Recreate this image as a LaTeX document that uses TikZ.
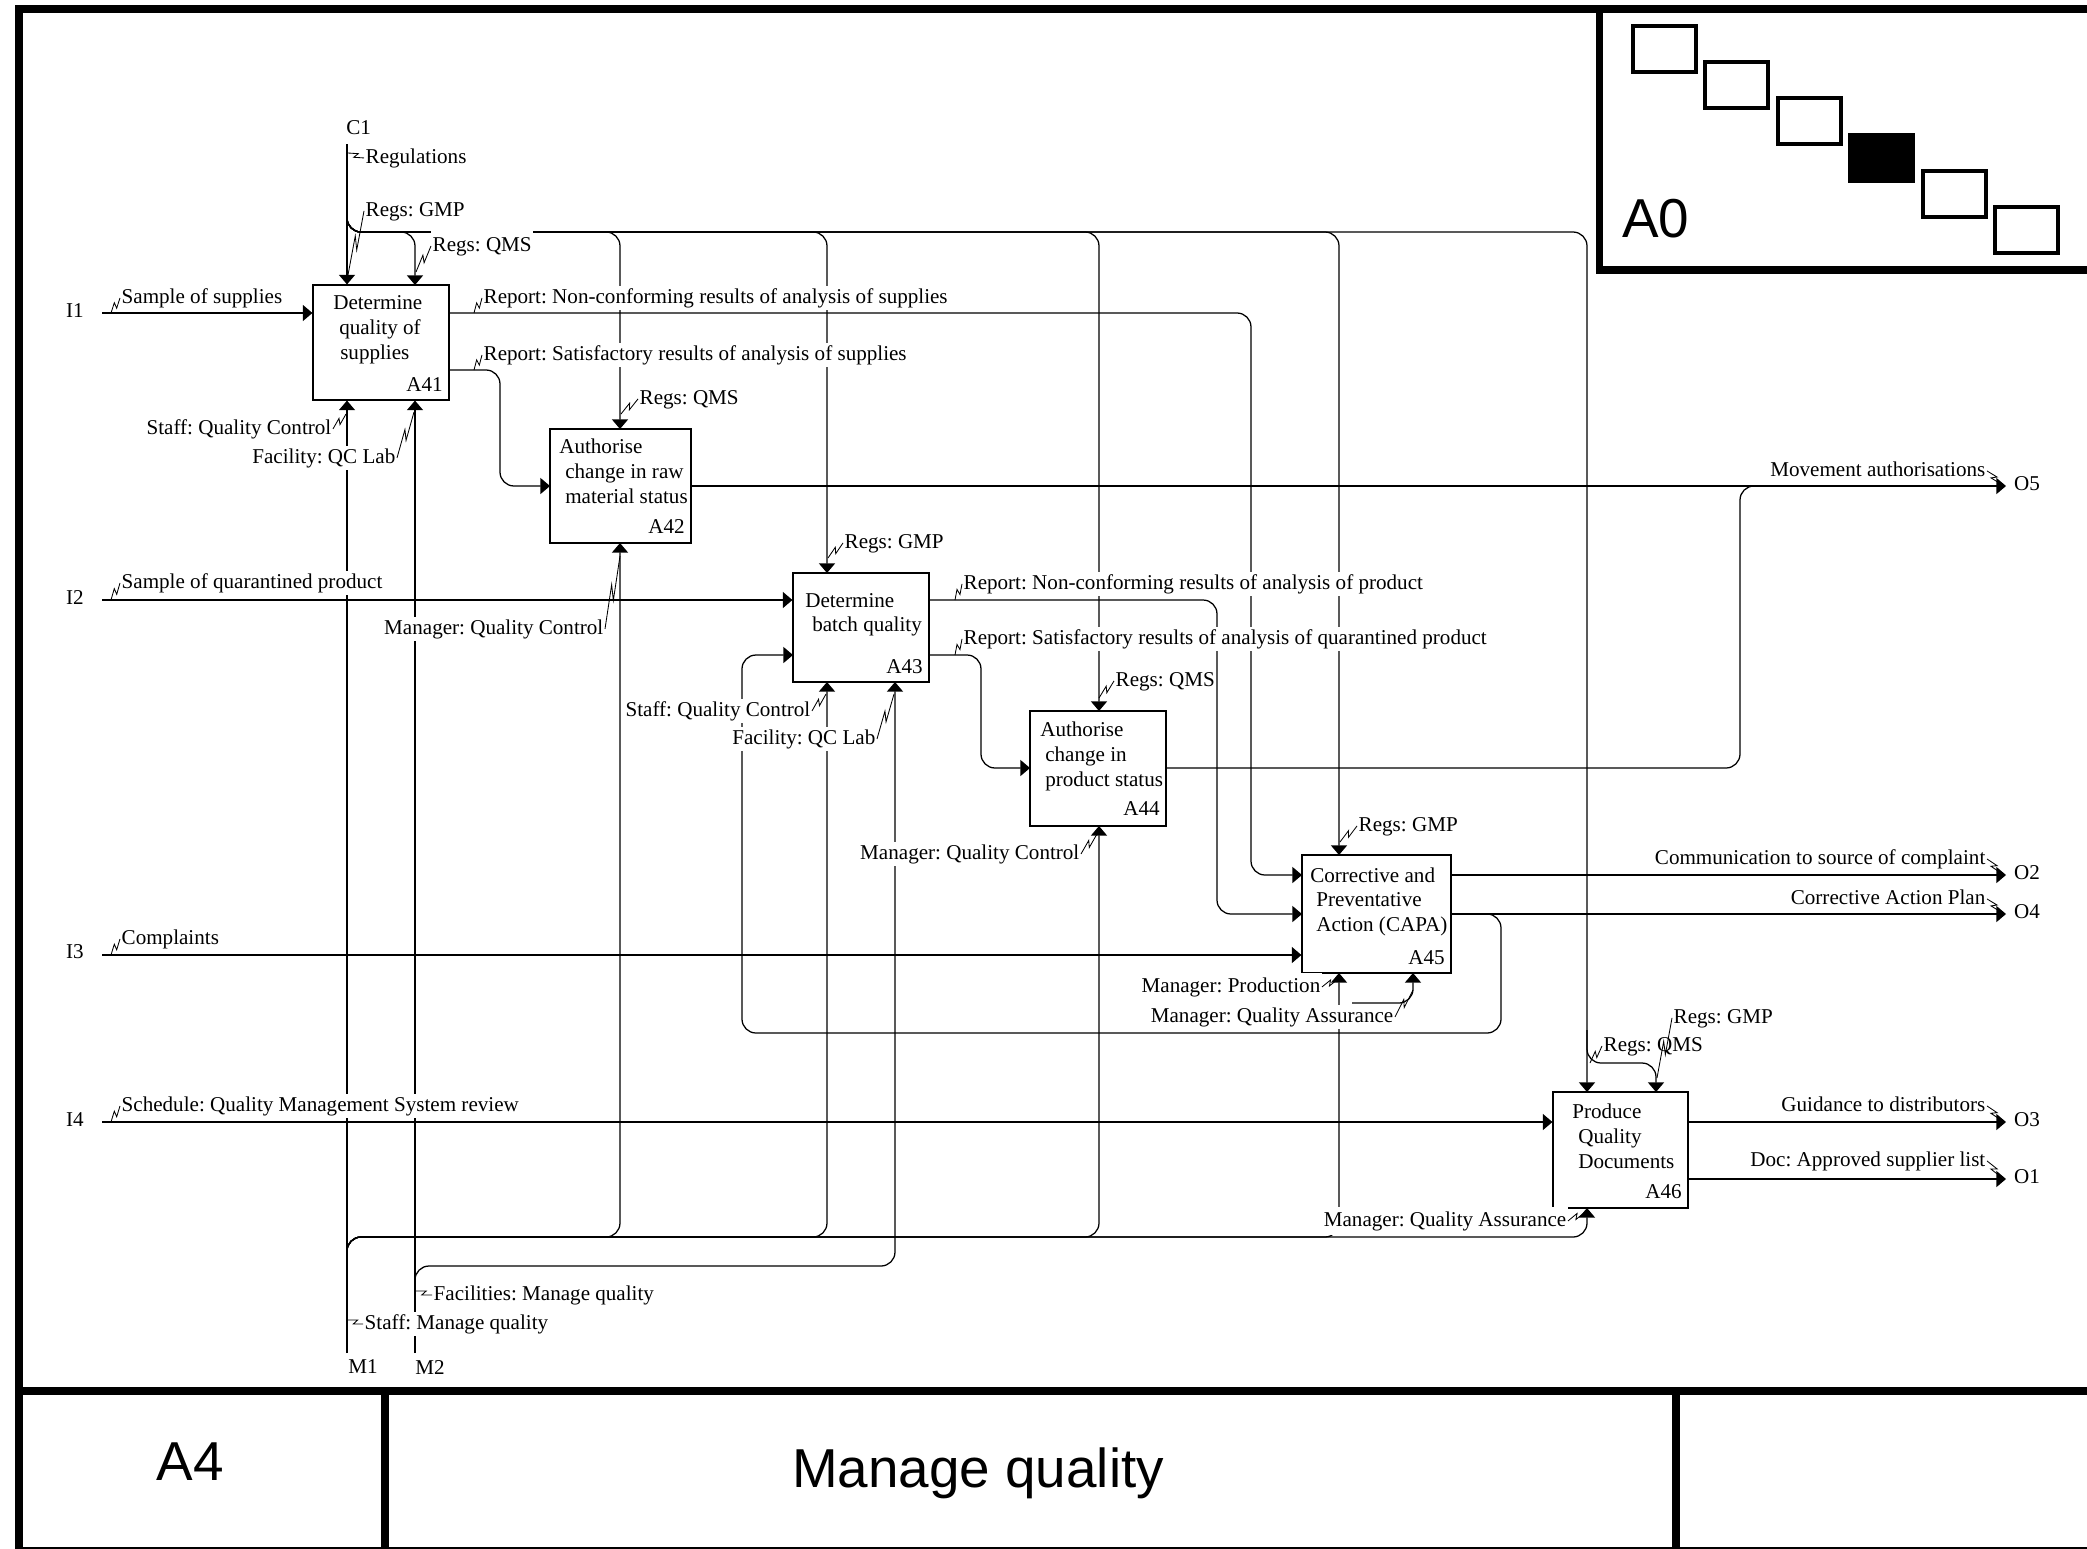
\documentclass[tikz,border=0pt]{standalone}
\usepackage{fontspec}
\setmainfont{Liberation Serif}
\newfontfamily\titlesans{Liberation Sans}
\usetikzlibrary{arrows.meta,calc,fit}

\newcommand\lblsize{\fontsize{15}{17.8}\selectfont\frenchspacing}
\newcommand\bigsans{\titlesans\fontsize{39}{45}\selectfont}

\tikzset{
  conn/.style={line width=0.9pt, rounded corners=0.35cm},
  arr/.style={conn, -{Triangle[length=0.24cm,width=0.4cm]}},
  proc/.style={draw, line width=0.8pt, inner sep=0pt, fill=white},
  ltext/.style={font=\lblsize, inner sep=0pt},
  lbl/.style={font=\lblsize, fill=white, inner xsep=1pt, inner ysep=1.5pt,
              text height=10.5pt, text depth=3.3pt},
  sq/.style={line width=0.6pt},
  frame/.style={line width=5.7pt},
  tree/.style={line width=2.85pt},
}

% IDEF0 squiggle between a label and its arrow
\newcommand\sqg[2]{\draw[sq] (#1) -- ($(#1)!0.6!(#2)!0.06cm!90:(#2)$)
  -- ($(#1)!0.4!(#2)!0.06cm!-90:(#2)$) -- (#2);}

\begin{document}
\begin{tikzpicture}[x=0.025cm, y=-0.025cm]
\useasboundingbox (0,0) rectangle (2087,1548);
\clip (0,0) rectangle (2087,1548);
\fill[white] (0,0) rectangle (2087,1548);

% ---------- sheet frame and title block ----------
\draw[frame] (19,1600) -- (19,9) -- (2150,9);
\draw[frame] (15,1391) -- (2150,1391);
\draw[frame] (385,1391) -- (385,1600);
\draw[frame] (1676,1391) -- (1676,1600);
\draw[frame] (15,1551) -- (2150,1551);
\node[font=\bigsans, anchor=base, inner sep=0pt] (tnum) at (190,1480) {A4};
\node[font=\bigsans, anchor=base, inner sep=0pt] (ttitle) at (978,1487) {Manage quality};

% ---------- node tree ----------
\draw[line width=5pt] (1599,9) -- (1599,270) -- (2150,270);
\foreach \k in {0,1,2,4,5} {
  \draw[tree] ({1633+72.4*\k},{26+36.2*\k}) rectangle ++(63,46);
}
\fill ({1633+72.4*3-2},{26+36.2*3-2}) rectangle ++(67,50);
\node[font=\bigsans, anchor=base west, inner sep=0pt] (ttree) at (1622,237) {A0};

% ---------- activity boxes ----------
\node[proc, fit={(313,285) (449,400)}] (a41) {};
\node[proc, fit={(550,429) (691,543)}] (a42) {};
\node[proc, fit={(793,573) (929,682)}] (a43) {};
\node[proc, fit={(1030,711) (1166,826)}] (a44) {};
\node[proc, fit={(1302,855) (1451,973)}] (a45) {};
\node[proc, fit={(1553,1092) (1688,1208)}] (a46) {};

% ---------- boundary ends ----------
\coordinate (i1) at (102,313);
\coordinate (i2) at (102,600);
\coordinate (i3) at (102,955);
\coordinate (i4) at (102,1122);
\coordinate (o5) at (2006,486);
\coordinate (o2) at (2006,875);
\coordinate (o4) at (2006,914);
\coordinate (o3) at (2006,1122);
\coordinate (o1) at (2006,1179);
\coordinate (c1) at (347,144);
\coordinate (m1) at (347,1353);
\coordinate (m2) at (415,1353);

% inputs
\draw[arr] (i1) -- (a41.west |- i1);
\draw[arr] (i2) -- (a43.west |- i2);
\draw[arr] (i3) -- (a45.west |- i3);
\draw[arr] (i4) -- (a46.west |- i4);

% outputs
\draw[arr] (a42.east |- o5) -- (o5);
\draw[arr] (a45.east |- o2) -- (o2);
\draw[arr] (a45.east |- o4) -- (o4);
\draw[arr] (a46.east |- o3) -- (o3);
\draw[arr] (a46.east |- o1) -- (o1);

% controls: regulations bus
\draw[arr] (c1) -- (c1 |- a41.north);
\draw[arr] (347,200) -- (347,232) -- (415,232) -- (415,285);
\draw[arr] (347,200) -- (347,232) -- (620,232) -- (620,429);
\draw[arr] (347,200) -- (347,232) -- (827,232) -- (827,573);
\draw[arr] (347,200) -- (347,232) -- (1099,232) -- (1099,711);
\draw[arr] (347,200) -- (347,232) -- (1339,232) -- (1339,855);
\draw[arr] (347,200) -- (347,232) -- (1587,232) -- (1587,1092);
\draw[arr] (1587,1030) -- (1587,1063) -- (1656,1063) -- (1656,1092);

% mechanisms
\draw[arr] (m1) -- (m1 |- a41.south);
\draw[arr] (m2) -- (m2 |- a41.south);
\draw[arr] (347,1270) -- (347,1237) -- (620,1237) -- (620,543);
\draw[arr] (347,1270) -- (347,1237) -- (827,1237) -- (827,682);
\draw[arr] (347,1270) -- (347,1237) -- (1099,1237) -- (1099,826);
\draw[arr] (347,1270) -- (347,1237) -- (1339,1237) -- (1339,973);
\draw[arr] (347,1270) -- (347,1237) -- (1587,1237) -- (1587,1208);
\draw[arr] (415,1295) -- (415,1266) -- (895,1266) -- (895,682);
\draw[arr] (1352,1003) -- (1413,1003) -- (1413,973);

% flows between activities
\draw[arr] (449,313) -- (1251,313) -- (1251,875) -- (1302,875);
\draw[arr] (449,370) -- (500,370) -- (500,486) -- (550,486);
\draw[arr] (929,600) -- (1217,600) -- (1217,914) -- (1302,914);
\draw[arr] (929,655) -- (981,655) -- (981,768) -- (1030,768);
\draw[conn] (1166,768) -- (1740,768) -- (1740,486) -- (1790,486);
\draw[arr] (1470,914) -- (1501,914) -- (1501,1033) -- (742,1033) -- (742,655) -- (793,655);

% ---------- activity texts ----------
\node[ltext, anchor=base west] (a41a) at (333,309) {Determine};
\node[ltext, anchor=base west] (a41b) at (339,334) {quality of};
\node[ltext, anchor=base west] (a41c) at (340,359) {supplies};
\node[ltext, anchor=base east] (a41n) at (443,391) {A41};
\node[ltext, anchor=base west] (a42a) at (559,453) {Authorise};
\node[ltext, anchor=base west] (a42b) at (565,478) {change in raw};
\node[ltext, anchor=base west] (a42c) at (565,503) {material status};
\node[ltext, anchor=base east] (a42n) at (685,533) {A42};
\node[ltext, anchor=base west] (a43a) at (805,607) {Determine};
\node[ltext, anchor=base west] (a43b) at (812,631) {batch quality};
\node[ltext, anchor=base east] (a43n) at (923,673) {A43};
\node[ltext, anchor=base west] (a44a) at (1040,736) {Authorise};
\node[ltext, anchor=base west] (a44b) at (1045,761) {change in};
\node[ltext, anchor=base west] (a44c) at (1045,786) {product status};
\node[ltext, anchor=base east] (a44n) at (1160,815) {A44};
\node[ltext, anchor=base west] (a45a) at (1310,882) {Corrective and};
\node[ltext, anchor=base west] (a45b) at (1316,906) {Preventative};
\node[ltext, anchor=base west] (a45c) at (1316,931) {Action (CAPA)};
\node[ltext, anchor=base east] (a45n) at (1445,964) {A45};
\node[ltext, anchor=base west] (a46a) at (1572,1118) {Produce};
\node[ltext, anchor=base west] (a46b) at (1578,1143) {Quality};
\node[ltext, anchor=base west] (a46c) at (1578,1168) {Documents};
\node[ltext, anchor=base east] (a46n) at (1682,1198) {A46};

% ---------- boundary codes ----------
\node[ltext] (ti1) at (75,311) {I1};
\node[ltext] (ti2) at (75,598) {I2};
\node[ltext] (ti3) at (75,952) {I3};
\node[ltext] (ti4) at (75,1120) {I4};
\node[ltext] (to5) at (2027,484) {O5};
\node[ltext] (to2) at (2027,873) {O2};
\node[ltext] (to4) at (2027,912) {O4};
\node[ltext] (to3) at (2027,1120) {O3};
\node[ltext] (to1) at (2027,1177) {O1};
\node[ltext, anchor=west] (tc1) at (346,128) {C1};
\node[ltext, anchor=west] (tm1) at (348,1367) {M1};
\node[ltext, anchor=west] (tm2) at (415,1367) {M2};

% ---------- arrow labels ----------
\node[lbl, anchor=base west] (lreg) at (364,163) {Regulations};
\node[lbl, anchor=base west] (lgmp1) at (364,216) {Regs: GMP};
\node[lbl, anchor=base west, inner ysep=3.5pt] (lqms1) at (431,251) {Regs: QMS};
\node[lbl, anchor=base west] (lsamp) at (120,303) {Sample of supplies};
\node[lbl, anchor=base west] (lnc1) at (482,303) {Report: Non-conforming results of analysis of supplies};
\node[lbl, anchor=base west] (lsat1) at (482,360) {Report: Satisfactory results of analysis of supplies};
\node[lbl, anchor=base west] (lqms2) at (638,404) {Regs: QMS};
\node[lbl, anchor=base east] (lstaff1) at (333,434) {Staff: Quality Control};
\node[lbl, anchor=base east] (lfac1) at (397,463) {Facility: QC Lab};
\node[lbl, anchor=base east] (lmove) at (1987,476) {Movement authorisations};
\node[lbl, anchor=base west] (lgmp2) at (843,548) {Regs: GMP};
\node[lbl, anchor=base west] (lquar) at (120,588) {Sample of quarantined product};
\node[lbl, anchor=base east] (lmqc1) at (605,634) {Manager: Quality Control};
\node[lbl, anchor=base west] (lnc2) at (962,589) {Report: Non-conforming results of analysis of product};
\node[lbl, anchor=base west] (lsat2) at (962,644) {Report: Satisfactory results of analysis of quarantined product};
\node[lbl, anchor=base west] (lqms3) at (1114,686) {Regs: QMS};
\node[lbl, anchor=base east] (lstaff2) at (812,716) {Staff: Quality Control};
\node[lbl, anchor=base east] (lfac2) at (877,744) {Facility: QC Lab};
\node[lbl, anchor=base east] (lmqc2) at (1081,859) {Manager: Quality Control};
\node[lbl, anchor=base west] (lgmp3) at (1357,831) {Regs: GMP};
\node[lbl, anchor=base east] (lcomm) at (1987,864) {Communication to source of complaint};
\node[lbl, anchor=base east] (lcap) at (1987,904) {Corrective Action Plan};
\node[lbl, anchor=base west] (lcompl) at (120,944) {Complaints};
\node[lbl, anchor=base east, inner ysep=3pt] (lprod) at (1322,992) {Manager: Production};
\node[lbl, anchor=base east] (lqa1) at (1395,1022) {Manager: Quality Assurance};
\node[lbl, anchor=base west] (lgmp4) at (1672,1023) {Regs: GMP};
\node[lbl, anchor=base west] (lqms4) at (1602,1051) {Regs: QMS};
\node[lbl, anchor=base west] (lsched) at (120,1111) {Schedule: Quality Management System review};
\node[lbl, anchor=base east] (lguid) at (1987,1111) {Guidance to distributors};
\node[lbl, anchor=base east] (ldoc) at (1987,1166) {Doc: Approved supplier list};
\node[lbl, anchor=base east, inner ysep=3pt] (lqa2) at (1568,1226) {Manager: Quality Assurance};
\node[lbl, anchor=base west] (lfacm) at (432,1300) {Facilities: Manage quality};
\node[lbl, anchor=base west] (lstaffm) at (363,1329) {Staff: Manage quality};

% ---------- squiggles ----------
\sqg{lreg.west}{348,153}
\sqg{lgmp1.west}{348,275}
\sqg{lqms1.west}{416,272}
\sqg{lsamp.west}{111,313}
\sqg{lnc1.west}{474,313}
\sqg{lsat1.west}{474,370}
\sqg{lqms2.west}{621,414}
\sqg{lstaff1.east}{346,414}
\sqg{lfac1.east}{414,412}
\sqg{lmove.east}{2001,484}
\sqg{lgmp2.west}{828,558}
\sqg{lquar.west}{111,600}
\sqg{lmqc1.east}{620,556}
\sqg{lnc2.west}{955,600}
\sqg{lsat2.west}{955,655}
\sqg{lqms3.west}{1099,698}
\sqg{lstaff2.east}{826,694}
\sqg{lfac2.east}{894,694}
\sqg{lmqc2.east}{1097,834}
\sqg{lgmp3.west}{1340,842}
\sqg{lcomm.east}{2001,873}
\sqg{lcap.east}{2001,912}
\sqg{lcompl.west}{111,955}
\sqg{lprod.east}{1338,979}
\sqg{lqa1.east}{1413,990}
\sqg{lgmp4.west}{1657,1078}
\sqg{lqms4.west}{1590,1063}
\sqg{lsched.west}{111,1122}
\sqg{lguid.east}{2001,1120}
\sqg{ldoc.east}{2001,1177}
\sqg{lqa2.east}{1585,1212}
\sqg{lfacm.west}{416,1291}
\sqg{lstaffm.west}{348,1320}

\end{tikzpicture}
\end{document}
